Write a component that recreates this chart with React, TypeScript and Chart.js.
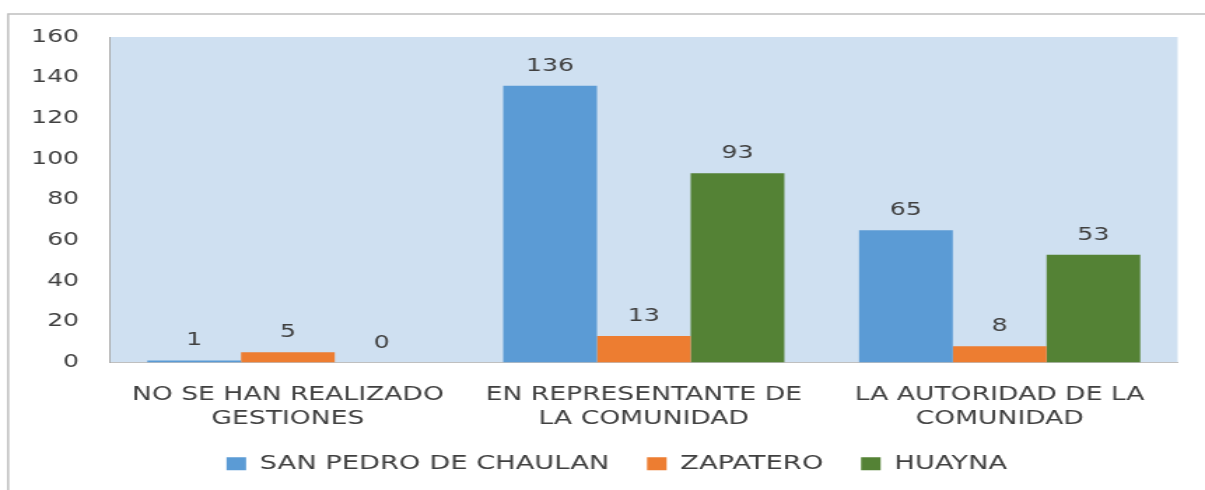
import React, { useEffect, useRef } from "react";
import { Chart, registerables } from "chart.js";

Chart.register(...registerables);

const categories: string[][] = [
  ["NO SE HAN REALIZADO", "GESTIONES"],
  ["EN REPRESENTANTE DE", "LA COMUNIDAD"],
  ["LA AUTORIDAD DE LA", "COMUNIDAD"],
];
const seriesNames = ["SAN PEDRO DE CHAULAN", "ZAPATERO", "HUAYNA"];
const sanPedro = [1, 136, 65];
const zapatero = [5, 13, 8];
const huayna = [0, 93, 53];
const yMin = 0;
const yMax = 160;
const yStep = 20;

const colors = ["#5b9bd5", "#ed7d31", "#548235"];
const PAGE_W = 1205;
const PAGE_H = 490;
const S = 1.4;
const W = Math.round(PAGE_W / S);
const FONT = "'DejaVu Sans', sans-serif";
const TEXT = "#404040";
const LEGEND_SHIFT = 20;

const bgPlugin = {
  id: "bgPlugin",
  afterLayout(chart: any) {
    if (chart.legend) {
      chart.legend.left += LEGEND_SHIFT;
      chart.legend.right += LEGEND_SHIFT;
    }
  },
  beforeDraw(chart: any) {
    const { ctx, chartArea } = chart;
    ctx.save();
    ctx.fillStyle = "#cfe0f1";
    ctx.fillRect(chartArea.left, chartArea.top, chartArea.right - chartArea.left, chartArea.bottom - chartArea.top);
    ctx.strokeStyle = "#bfbfbf";
    ctx.lineWidth = 1.5;
    ctx.beginPath();
    ctx.moveTo(5.8, PAGE_H + 5);
    ctx.lineTo(5.8, 14);
    ctx.lineTo(W + 5, 14);
    ctx.stroke();
    ctx.restore();
  },
};

const labelPlugin = {
  id: "labelPlugin",
  afterDatasetsDraw(chart: any) {
    const { ctx } = chart;
    ctx.save();
    ctx.font = `18px ${FONT}`;
    ctx.fillStyle = TEXT;
    ctx.textAlign = "center";
    ctx.textBaseline = "alphabetic";
    chart.data.datasets.forEach((ds: any, i: number) => {
      const meta = chart.getDatasetMeta(i);
      meta.data.forEach((el: any, j: number) => {
        ctx.fillText(String(ds.data[j]), el.x, el.y - 15);
      });
    });
    ctx.restore();
  },
};

export default function App() {
  const ref = useRef<HTMLCanvasElement>(null);
  useEffect(() => {
    if (!ref.current) return;
    const chart = new Chart(ref.current, {
      type: "bar",
      data: {
        labels: categories,
        datasets: [
          { label: seriesNames[0], data: sanPedro, backgroundColor: colors[0] },
          { label: seriesNames[1], data: zapatero, backgroundColor: colors[1] },
          { label: seriesNames[2], data: huayna, backgroundColor: colors[2] },
        ],
      },
      options: {
        responsive: false,
        animation: false,
        devicePixelRatio: 1,
        layout: { padding: { top: 37, left: 0, right: W - 1178 / S, bottom: 6.5 } },
        datasets: { bar: { barPercentage: 1, categoryPercentage: 0.79 } },
        plugins: {
          tooltip: { enabled: false },
          legend: {
            position: "bottom",
            labels: {
              boxWidth: 14,
              boxHeight: 13,
              padding: 27,
              color: TEXT,
              font: { family: FONT, size: 19.5 },
            },
          },
        },
        scales: {
          x: {
            grid: { display: false, drawTicks: false },
            border: { display: true, color: "#bfbfbf", width: 1 },
            ticks: { color: TEXT, padding: 20, font: { family: FONT, size: 19, lineHeight: 1.3 } },
            afterFit: (s: any) => {
              s.height = 64.5;
            },
          },
          y: {
            min: yMin,
            max: yMax,
            grid: { display: false, drawTicks: false },
            border: { display: true, color: "#a6a6a6", width: 1 },
            ticks: { stepSize: yStep, color: TEXT, padding: 22, font: { family: FONT, size: 18 } },
            afterFit: (s: any) => {
              s.width = 110 / S;
            },
          },
        },
      },
      plugins: [bgPlugin, labelPlugin],
    });
    return () => chart.destroy();
  }, []);
  return (
    <canvas
      ref={ref}
      width={W}
      height={PAGE_H}
      style={{ position: "absolute", left: 0, top: 0, width: PAGE_W + "px", height: PAGE_H + "px", display: "block" }}
    />
  );
}
